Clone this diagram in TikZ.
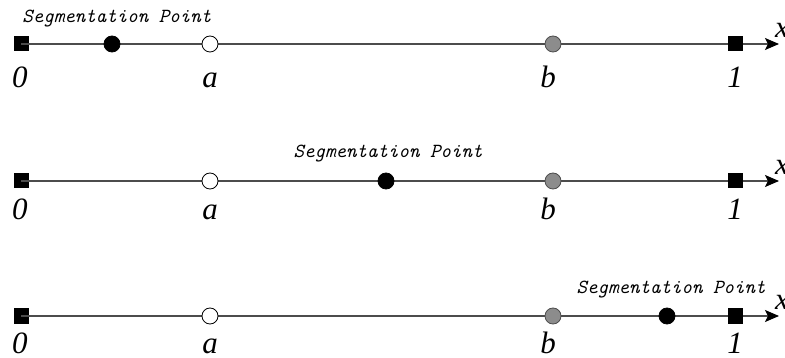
\documentclass[tikz,border=0pt]{standalone}
\usepackage{fontspec}
\setmainfont{Liberation Serif}
\usepackage{tikz}
\usetikzlibrary{arrows.meta}

\tikzset{
	axisline/.style={draw=black!70, line width=1.2pt, -{Stealth[length=14pt,width=12pt,inset=3pt,black]}},
	sq/.style={rectangle, fill=black, minimum size=15pt, inner sep=0pt},
	blackdot/.style={circle, draw=black, fill=black, line width=0.8pt, minimum size=16pt, inner sep=0pt},
	whitedot/.style={circle, draw=black, fill=white, line width=0.8pt, minimum size=16pt, inner sep=0pt},
	greydot/.style={circle, draw=black!70, fill=black!45, line width=0.8pt, minimum size=16pt, inner sep=0pt},
	lbl/.style={font=\fontsize{31}{33}\selectfont\itshape, inner sep=0pt, anchor=base},
	segtxt/.style={font=\fontsize{20}{22}\selectfont\ttfamily\itshape, inner sep=0pt}
}

\begin{document}
\begin{tikzpicture}[x=1pt,y=-1pt]
	\useasboundingbox (0,0) rectangle (785,358);

	% first line
	\coordinate (e1) at (779,44);
	\node[sq] (z1) at (21,44) {};
	\draw[axisline] (z1.center) -- (e1);
	\node[blackdot] (s1) at (112,44) {};
	\node[whitedot] (a1) at (210,44) {};
	\node[greydot] (b1) at (553,44) {};
	\node[sq] (u1) at (735,44) {};
	\node[segtxt] (t1) at (117,19) {Segmentation Point};
	\node[lbl] at (20,88) {0};
	\node[lbl] at (210,88) {a};
	\node[lbl] at (548,88) {b};
	\node[lbl] at (735,88) {1};
	\node[lbl, anchor=west] (x1) at (775,30) {x};

	% second line
	\coordinate (e2) at (779,181);
	\node[sq] (z2) at (21,181) {};
	\draw[axisline] (z2.center) -- (e2);
	\node[whitedot] (a2) at (210,181) {};
	\node[blackdot] (s2) at (386,181) {};
	\node[greydot] (b2) at (553,181) {};
	\node[sq] (u2) at (735,181) {};
	\node[segtxt] (t2) at (388,154) {Segmentation Point};
	\node[lbl] at (20,220) {0};
	\node[lbl] at (210,220) {a};
	\node[lbl] at (548,220) {b};
	\node[lbl] at (735,220) {1};
	\node[lbl, anchor=west] (x2) at (775,167) {x};

	% third line
	\coordinate (e3) at (779,316);
	\node[sq] (z3) at (21,316) {};
	\draw[axisline] (z3.center) -- (e3);
	\node[whitedot] (a3) at (210,316) {};
	\node[greydot] (b3) at (553,316) {};
	\node[blackdot] (s3) at (667,316) {};
	\node[sq] (u3) at (735,316) {};
	\node[segtxt] (t3) at (671,290) {Segmentation Point};
	\node[lbl] at (20,353) {0};
	\node[lbl] at (210,353) {a};
	\node[lbl] at (548,353) {b};
	\node[lbl] at (735,353) {1};
	\node[lbl, anchor=west] (x3) at (775,302) {x};
\end{tikzpicture}
\end{document}
